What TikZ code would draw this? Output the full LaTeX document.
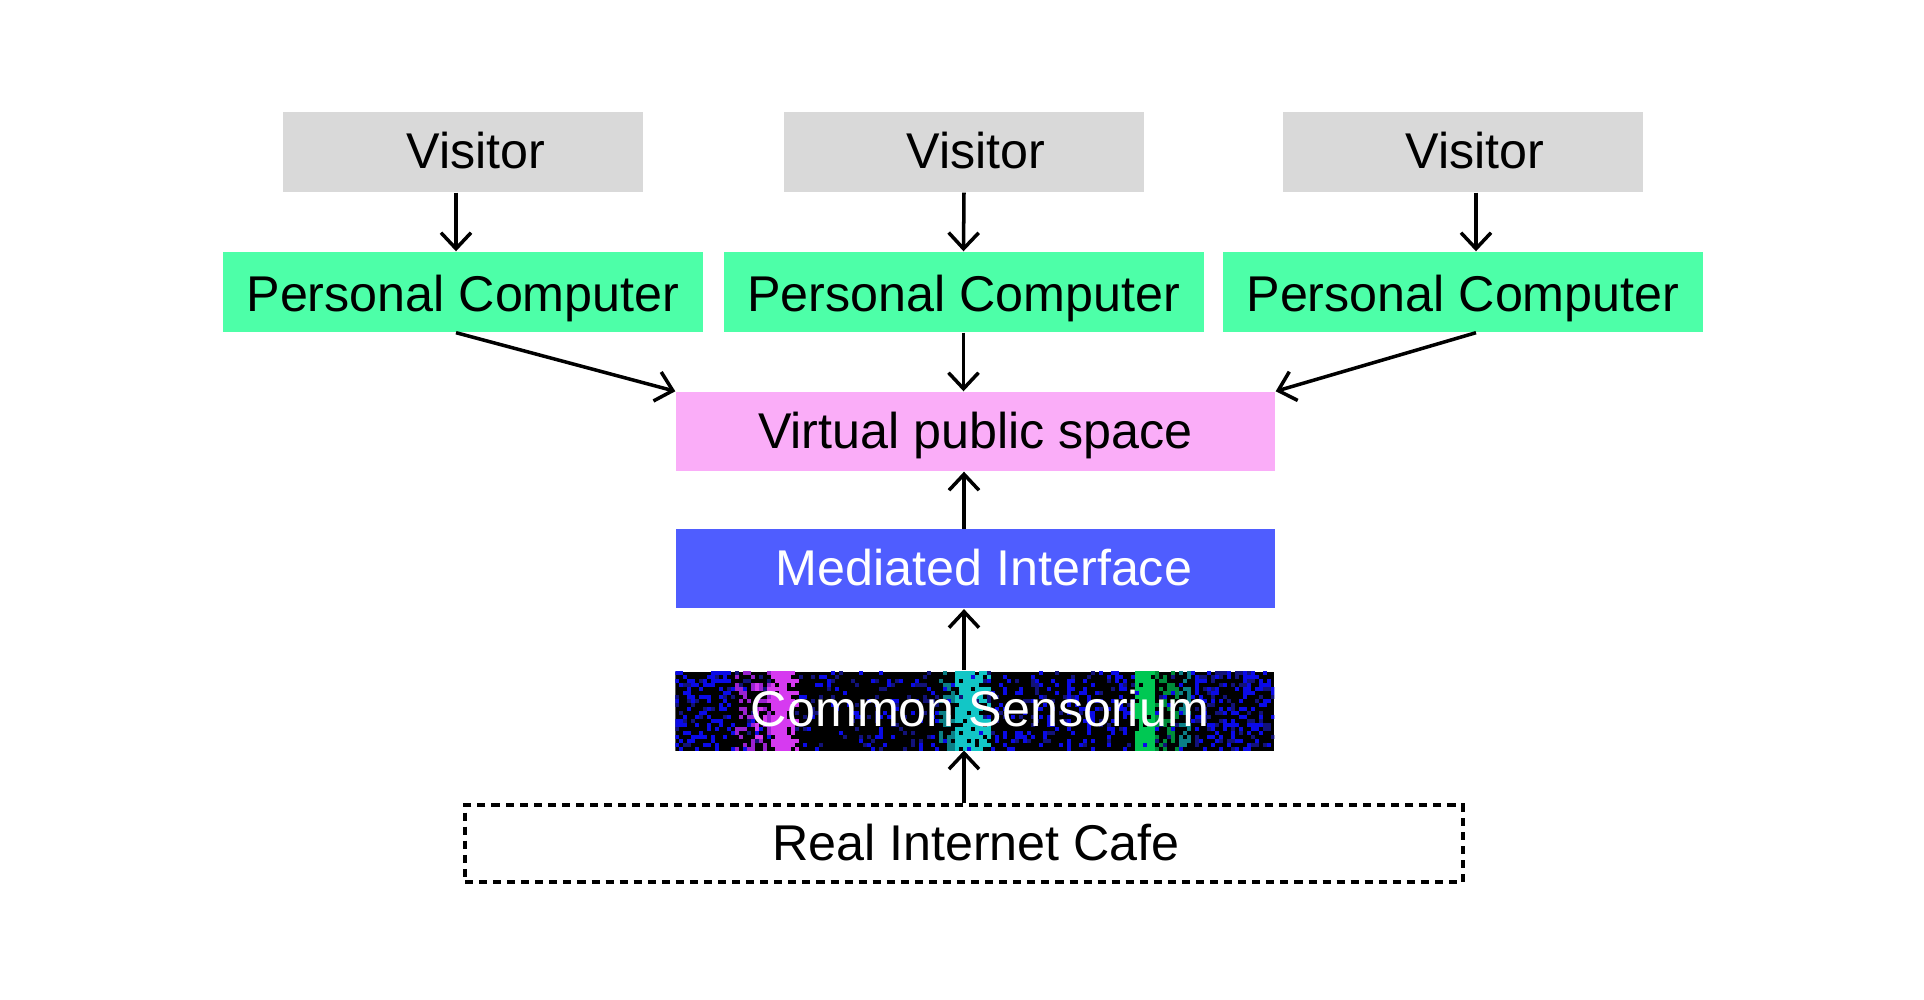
\documentclass[tikz,border=0pt]{standalone}
\usepackage{fontspec}
\setmainfont{Liberation Sans}
\usepackage{xcolor}
\usepackage{tikz}
\usetikzlibrary{arrows.meta, positioning, backgrounds, calc}
\definecolor{visitorgray}{HTML}{D9D9D9}
\definecolor{pcgreen}{HTML}{4DFFA8}
\definecolor{vpspink}{HTML}{FAADF8}
\definecolor{medblue}{HTML}{4F5DFF}
\definecolor{glitchmag}{HTML}{D63AF0}
\definecolor{glitchpurple}{HTML}{9A22D0}
\definecolor{glitchcyan}{HTML}{12C6C6}
\definecolor{glitchteal}{HTML}{0A7F86}
\definecolor{glitchgreen}{HTML}{00C853}
\definecolor{glitchblue}{HTML}{0A0AE8}
\definecolor{glitchnavy}{HTML}{12127A}
\tikzstyle{visitor} = [rectangle, inner sep=0pt, minimum width=3.6cm, minimum height=0.8cm, text height=0.35cm, text depth=0.018cm, text centered, fill=visitorgray]
\tikzstyle{computer} = [rectangle, inner sep=0pt, minimum width=4.8cm, minimum height=0.8cm, text height=0.4cm, text depth=0cm, text centered, fill=pcgreen]
\tikzstyle{layer} = [rectangle, inner sep=0pt, minimum width=5.99cm, minimum height=0.79cm, text height=0.35cm, text depth=0.018cm, text centered]
\tikzstyle{arrow} = [line width=1pt,-{Straight Barb[length=1.6mm,width=3mm]}]
% random pixel noise inside the sensorium box: first col, last col, density, colour
\newcommand{\glitch}[4]{%
  \foreach \i in {#1,...,#2}{
    \foreach \j in {0,...,19}{
      \pgfmathsetmacro{\r}{rnd}
      \ifdim\r pt<#3pt
        \fill[#4] (\i*0.04,\j*0.0395) rectangle ++(0.04,0.0395);
      \fi}}}

\begin{document}
\begin{tikzpicture}[node distance=0.6cm, font=\fontsize{14.3}{17}\selectfont]
  \pgfmathsetseed{4242}
  \useasboundingbox (0,0) rectangle (19.24,-10);

  % Visitor Nodes
  \node (vis1) [visitor] at (4.63,-1.52) {\hspace*{0.26cm}Visitor};
  \node (vis2) [visitor] at (9.64,-1.52) {\hspace*{0.24cm}Visitor};
  \node (vis3) [visitor] at (14.63,-1.52) {\hspace*{0.24cm}Visitor};

  % Computer Nodes
  \node (pc1) [computer] at (4.63,-2.92) {Personal Computer};
  \node (pc2) [computer] at (9.635,-2.92) {Personal Computer};
  \node (pc3) [computer] at (14.63,-2.92) {Personal Computer};

  % Layer Nodes
  \node (vps) [layer, fill=vpspink] at (9.755,-4.315) {Virtual public space};
  \node (med) [layer, fill=medblue, text=white, below=0.57cm of vps] {\hspace*{0.17cm}Mediated Interface};
  \node (sens) [layer, text=white, below=0.61cm of med] {\hspace*{0.09cm}Common Sensorium};
  \node (cafe) [rectangle, inner sep=0pt, minimum width=9.98cm, minimum height=0.77cm, text height=0.35cm, text depth=0.018cm, draw=black, line width=0.9pt, dash pattern=on 2.3pt off 1.7pt] at (9.64,-8.435) {\hspace*{0.24cm}Real Internet Cafe};

  \begin{scope}[on background layer]
    \fill[white] (0,0) rectangle (19.24,-10);
    % Sensorium noise
    \begin{scope}[shift={(sens.south west)}]
      \clip (0,0) rectangle (5.99,0.79);
      \fill[black] (0,0) rectangle (5.99,0.79);
      \glitch{0}{149}{0.09}{glitchblue}
      \glitch{0}{149}{0.08}{glitchnavy}
      \glitch{0}{14}{0.18}{glitchblue}
      \glitch{80}{112}{0.08}{glitchblue}
      \glitch{129}{149}{0.2}{glitchblue}
      \glitch{129}{149}{0.1}{glitchnavy}
      \glitch{98}{98}{0.6}{glitchblue}
      \glitch{15}{23}{0.3}{glitchpurple}
      \glitch{20}{23}{0.15}{glitchmag}
      \glitch{24}{28}{0.85}{glitchmag}
      \glitch{29}{30}{0.35}{glitchmag}
      \glitch{66}{69}{0.35}{glitchteal}
      \glitch{70}{76}{0.85}{glitchcyan}
      \glitch{77}{78}{0.4}{glitchcyan}
      \glitch{115}{119}{0.9}{glitchgreen}
      \glitch{120}{125}{0.35}{glitchgreen!70!black}
      \glitch{126}{128}{0.45}{glitchteal}
    \end{scope}
  \end{scope}

  % Arrows
  \draw[arrow] ([xshift=-0.07cm]vis1.south) -- ([xshift=-0.07cm]pc1.north);
  \draw[arrow] (vis2.south) -- (pc2.north);
  \draw[arrow] ([xshift=0.13cm]vis3.south) -- ([xshift=0.13cm]pc3.north);
  \draw[arrow] ([xshift=-0.07cm]pc1.south) -- (vps.north west);
  \draw[arrow] (pc2.south) -- (pc2.south |- vps.north);
  \draw[arrow] ([xshift=0.13cm]pc3.south) -- (vps.north east);
  \draw[arrow] (med.north -| cafe.north) -- (cafe.north |- vps.south);
  \draw[arrow] (sens.north -| cafe.north) -- (cafe.north |- med.south);
  \draw[arrow] (cafe.north) -- (cafe.north |- sens.south);
\end{tikzpicture}
\end{document}
